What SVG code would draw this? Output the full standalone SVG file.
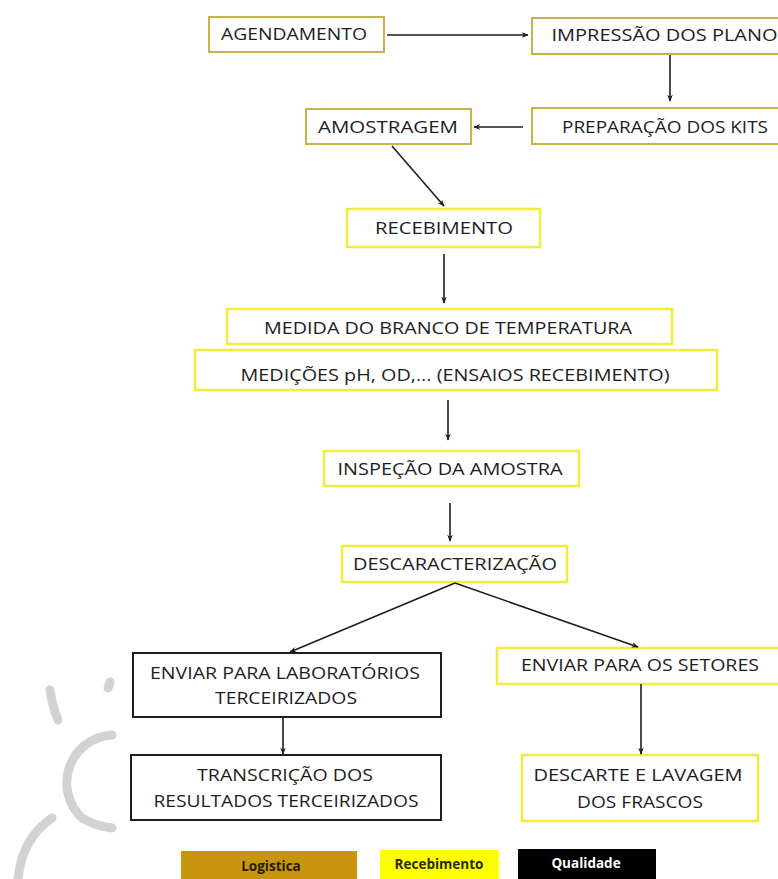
<svg xmlns="http://www.w3.org/2000/svg" width="778" height="879" viewBox="0 0 778 879">
<style>
.t{font-family:"Open Sans","Liberation Sans",sans-serif;font-size:17px;fill:#1e1e1e;text-anchor:middle}
.brn{fill:#fff;stroke:#C9B24E;stroke-width:2}
.yel{fill:#fff;stroke:#F2EC3C;stroke-width:2.5}
.blk{fill:#fff;stroke:#1e1e1e;stroke-width:2}
.c line{stroke:#1e1e1e;stroke-width:1.6;marker-end:url(#ah)}
.lg{font-family:"Open Sans","Liberation Sans",sans-serif;font-size:13.5px;font-weight:bold;text-anchor:middle}
.wm{fill:none;stroke:#d2d2d2;stroke-width:9;stroke-linecap:round}
</style>
<defs>
<marker id="ah" viewBox="0 0 10 10" refX="9" refY="5" markerWidth="7" markerHeight="7" orient="auto" markerUnits="userSpaceOnUse">
<path d="M0,1 L10,5 L0,9 L3,5 Z" fill="#1e1e1e"/>
</marker>
</defs>
<rect width="778" height="879" fill="#fff"/>
<g id="watermark">
<path class="wm" d="M50,690 Q52,705 58,720"/>
<path class="wm" d="M110,682 L108,688"/>
<path class="wm" d="M112,735 A48,48 0 0 0 82,818 Q95,826 112,828"/>
<path class="wm" d="M52,818 Q22,838 18,879"/>
</g>
<g id="n-agendamento"><rect class="brn" x="209" y="17" width="175" height="35"/><text class="t" x="294" y="40" textLength="146" lengthAdjust="spacingAndGlyphs">AGENDAMENTO</text></g>
<g id="n-impressao"><rect class="brn" x="532" y="18" width="276" height="36"/><text class="t" x="670" y="41" textLength="237" lengthAdjust="spacingAndGlyphs">IMPRESSÃO DOS PLANOS</text></g>
<g id="n-preparacao"><rect class="brn" x="532" y="108" width="276" height="36"/><text class="t" x="665" y="133" textLength="206" lengthAdjust="spacingAndGlyphs">PREPARAÇÃO DOS KITS</text></g>
<g id="n-amostragem"><rect class="brn" x="306" y="109" width="165" height="35"/><text class="t" x="388" y="133" textLength="140" lengthAdjust="spacingAndGlyphs">AMOSTRAGEM</text></g>
<g id="n-recebimento"><rect class="yel" x="347" y="209" width="193" height="38"/><text class="t" x="444" y="234" textLength="138" lengthAdjust="spacingAndGlyphs">RECEBIMENTO</text></g>
<g id="n-medida"><rect class="yel" x="227" y="309" width="445" height="35"/><text class="t" x="448" y="334" textLength="368" lengthAdjust="spacingAndGlyphs">MEDIDA DO BRANCO DE TEMPERATURA</text></g>
<g id="n-medicoes"><rect class="yel" x="195" y="350" width="522" height="40"/><text class="t" x="455" y="381" textLength="429" lengthAdjust="spacingAndGlyphs">MEDIÇÕES pH, OD,... (ENSAIOS RECEBIMENTO)</text></g>
<g id="n-inspecao"><rect class="yel" x="324" y="451" width="255" height="35"/><text class="t" x="450" y="475" textLength="225" lengthAdjust="spacingAndGlyphs">INSPEÇÃO DA AMOSTRA</text></g>
<g id="n-descaracterizacao"><rect class="yel" x="342" y="546" width="225" height="36"/><text class="t" x="455" y="570" textLength="204" lengthAdjust="spacingAndGlyphs">DESCARACTERIZAÇÃO</text></g>
<g id="n-enviar-lab"><rect class="blk" x="133" y="653" width="308" height="64"/><text class="t" x="285" y="679" textLength="270" lengthAdjust="spacingAndGlyphs">ENVIAR PARA LABORATÓRIOS</text><text class="t" x="286" y="704" textLength="142" lengthAdjust="spacingAndGlyphs">TERCEIRIZADOS</text></g>
<g id="n-transcricao"><rect class="blk" x="131" y="755" width="310" height="65"/><text class="t" x="285" y="781" textLength="176" lengthAdjust="spacingAndGlyphs">TRANSCRIÇÃO DOS</text><text class="t" x="286" y="807" textLength="265" lengthAdjust="spacingAndGlyphs">RESULTADOS TERCEIRIZADOS</text></g>
<g id="n-enviar-setores"><rect class="yel" x="497" y="648" width="290" height="36"/><text class="t" x="640" y="671" textLength="238" lengthAdjust="spacingAndGlyphs">ENVIAR PARA OS SETORES</text></g>
<g id="n-descarte"><rect class="yel" x="522" y="755" width="236" height="66"/><text class="t" x="638" y="781" textLength="209" lengthAdjust="spacingAndGlyphs">DESCARTE E LAVAGEM</text><text class="t" x="640" y="808" textLength="126" lengthAdjust="spacingAndGlyphs">DOS FRASCOS</text></g>
<g class="c" id="connectors">
<line x1="387" y1="35" x2="528" y2="35"/>
<line x1="670" y1="55" x2="670" y2="101"/>
<line x1="523" y1="127" x2="474" y2="127"/>
<line x1="392" y1="146" x2="444" y2="206"/>
<line x1="444" y1="254" x2="444" y2="303"/>
<line x1="448" y1="400" x2="448" y2="440"/>
<line x1="450" y1="503" x2="450" y2="541"/>
<line x1="455" y1="583" x2="290" y2="652"/>
<line x1="455" y1="583" x2="638" y2="647"/>
<line x1="283" y1="718" x2="283" y2="754"/>
<line x1="641" y1="684" x2="641" y2="754"/>
</g>
<g id="legend">
<rect x="181" y="851" width="176" height="30" fill="#C8960C"/>
<text class="lg" x="271" y="871" fill="#2a1a00">Logistica</text>
<rect x="380" y="850" width="119" height="31" fill="#FFFF00"/>
<text class="lg" x="439" y="869" fill="#2a2a00">Recebimento</text>
<rect x="518" y="849" width="138" height="32" fill="#000"/>
<text class="lg" x="586" y="868" fill="#fff">Qualidade</text>
</g>
</svg>
